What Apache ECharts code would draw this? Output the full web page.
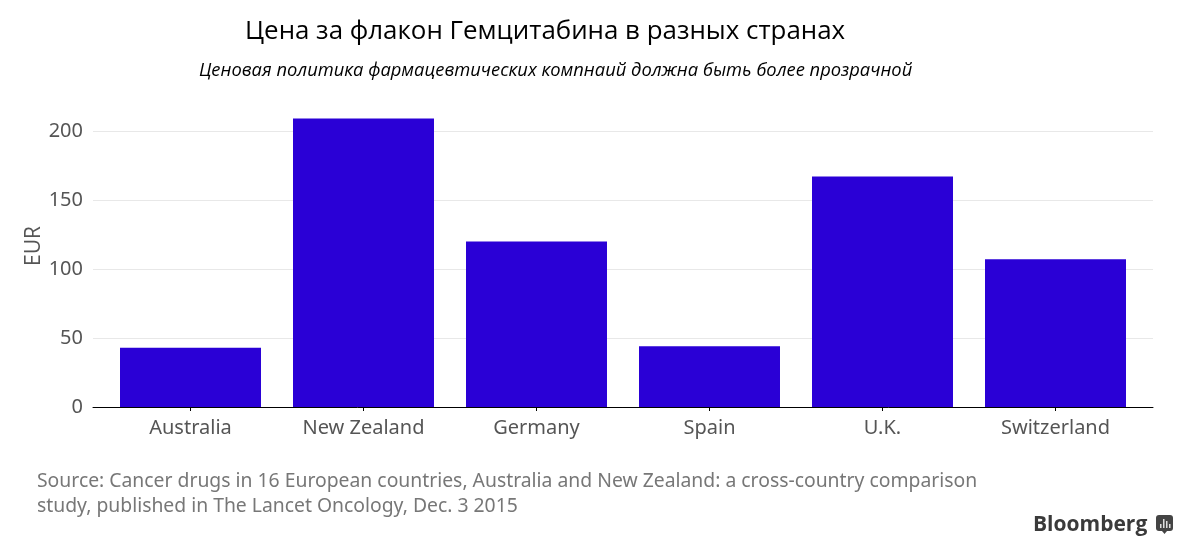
<!DOCTYPE html>
<html><head><meta charset="utf-8">
<style>html,body{margin:0;padding:0;background:#fff}#c{width:1198px;height:551px}</style>
<script src="https://cdn.jsdelivr.net/npm/echarts@6/dist/echarts.min.js"></script>
</head><body><div id="c"></div>
<script>
const categories = ["Australia","New Zealand","Germany","Spain","U.K.","Switzerland"];
const values = [43,209,120,44,167,107];
const chartTitle = "Цена за флакон Гемцитабина в разных странах";
const chartSubtitle = "Ценовая политика фармацевтических компнаий должна быть более прозрачной";
const sourceLines = ["Source: Cancer drugs in 16 European countries, Australia and New Zealand: a cross-country comparison","study, published in The Lancet Oncology, Dec. 3 2015"];
const yMax = 233.33;
const labelFont = 'Noto Sans';
const chart = echarts.init(document.getElementById('c'),null,{renderer:'canvas'});
chart.setOption({
  animation:false,
  backgroundColor:'#fff',
  title:[
    {text:chartTitle,left:245,top:19,padding:0,textStyle:{fontFamily:'Open Sans',fontSize:25.9,fontWeight:'normal',color:'#000'}},
    {text:chartSubtitle,left:199,top:62,padding:0,textStyle:{fontFamily:'Open Sans',fontSize:18.35,fontStyle:'italic',fontWeight:'normal',color:'#000'}}
  ],
  grid:[
    {left:93,right:45,top:85,bottom:144},
    {left:104,right:56,top:85,bottom:144}
  ],
  xAxis:[
    {type:'value',gridIndex:0,min:0,max:1,axisLine:{show:true,onZero:false,lineStyle:{color:'#000',width:1}},axisTick:{show:false},axisLabel:{show:false},splitLine:{show:false}},
    {type:'category',gridIndex:1,data:categories,
      axisLine:{show:false},axisTick:{show:true,alignWithLabel:true,length:4,lineStyle:{color:'#000',width:1}},
      axisLabel:{margin:11,fontFamily:labelFont,fontSize:20,color:'#555'}}
  ],
  yAxis:[
    {type:'value',gridIndex:0,min:0,max:yMax,interval:50,name:'EUR',nameLocation:'middle',nameGap:48,nameMoveOverlap:false,nameRotate:90,
      nameTextStyle:{fontFamily:'Open Sans',fontSize:21,color:'#555'},
      axisLine:{show:false},axisTick:{show:false},
      axisLabel:{margin:10,fontFamily:labelFont,fontSize:20,color:'#555',showMaxLabel:false},
      splitLine:{showMaxLine:false,showMinLine:false,lineStyle:{color:'#e8e8e8',width:1}}},
    {type:'value',gridIndex:1,min:0,max:yMax,interval:50,show:false,splitLine:{show:false}}
  ],
  series:[{type:'bar',xAxisIndex:1,yAxisIndex:1,data:values,barCategoryGap:'18.5%',itemStyle:{color:'#2a00d6'}}],
  graphic:[
    {type:'text',left:37,top:469,style:{text:sourceLines.join('\n'),fontFamily:labelFont,fontSize:19.35,lineHeight:25,fill:'#777'}},
    {type:'text',left:1033,top:515,style:{text:'Bloomberg',fontFamily:'Open Sans',fontSize:21,fontWeight:700,fill:'#3a3a3a'}},
    {type:'group',left:1156,top:515,children:[
      {type:'rect',shape:{x:0,y:0,width:17,height:16,r:3},style:{fill:'#444'}},
      {type:'polygon',shape:{points:[[6,16],[11,16],[8.5,19]]},style:{fill:'#444'}},
      {type:'rect',shape:{x:4,y:9,width:1.5,height:4},style:{fill:'#ddd'}},
      {type:'rect',shape:{x:7,y:4,width:1.5,height:9},style:{fill:'#ddd'}},
      {type:'rect',shape:{x:10,y:6,width:1.5,height:7},style:{fill:'#ddd'}},
      {type:'rect',shape:{x:13,y:9,width:1.5,height:4},style:{fill:'#ddd'}}
    ]}
  ]
});
</script></body></html>
